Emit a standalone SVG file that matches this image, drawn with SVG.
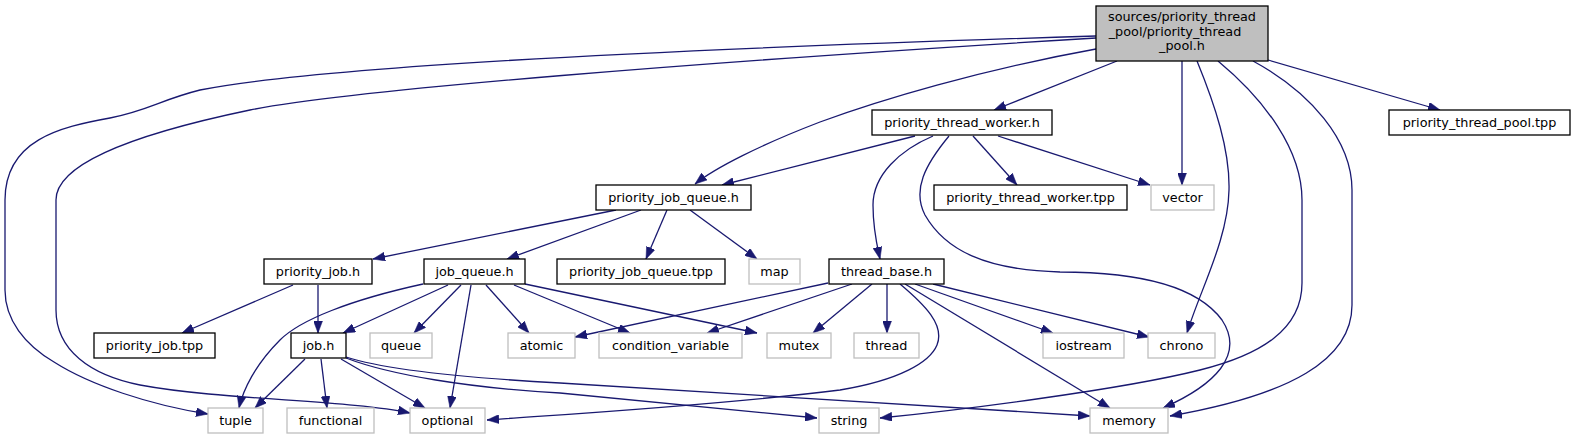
<svg xmlns="http://www.w3.org/2000/svg" width="1575" height="440" viewBox="0 0 1575 440">
<style>
.n rect{fill:#ffffff;stroke:#000000;stroke-width:1.3}
.s rect{fill:#ffffff;stroke:#bfbfbf;stroke-width:1.3}
.m rect{fill:#bfbfbf;stroke:#000000;stroke-width:1.3}
text{font-family:"DejaVu Sans","Liberation Sans",sans-serif;font-size:12.8px;text-anchor:middle;fill:#000000}
#edges path{fill:none;stroke:#191970;stroke-width:1.3;marker-end:url(#arr)}
</style>
<defs>
<marker id="arr" viewBox="0 0 12 9" refX="12" refY="4.5" markerWidth="12" markerHeight="9" markerUnits="userSpaceOnUse" orient="auto">
<path d="M0,0 L12,4.5 L0,9 Z" fill="#191970" stroke="#191970" stroke-width="0.5"/>
</marker>
</defs>
<rect x="0" y="0" width="1575" height="440" fill="#ffffff"/>
<g id="edges">
<path d="M1096,36 C900,42 350,60 200,90 C160,100 150,110 110,118 C60,127 5,140 5,200 L5,290 C5,320 25,345 54,362 C90,385 150,405 208,414"/>
<path d="M1096,38 C700,62 350,90 250,110 C130,135 56,165 56,200 L56,310 C56,350 90,375 140,385 C220,400 350,400 410,413"/>
<path d="M1096,49 C980,70 880,100 820,122 C760,145 715,168 695,184"/>
<path d="M1117,61 L994,110"/>
<path d="M1182,61 L1182,185"/>
<path d="M1197,61 C1215,105 1230,150 1229,190 C1228,240 1200,290 1187,333"/>
<path d="M1218,61 C1265,100 1302,150 1302,200 L1302,283 C1302,330 1260,355 1200,370 C1120,390 960,410 880,418"/>
<path d="M1253,61 C1310,92 1352,140 1352,190 L1352,305 C1352,360 1290,395 1170,416"/>
<path d="M1268,60 L1440,110"/>
<path d="M915,136 L722,185"/>
<path d="M933,136 C900,150 873,175 873,205 C873,230 878,250 880,259"/>
<path d="M949,136 C925,165 912,190 925,215 C945,250 985,270 1060,272 C1150,272 1200,290 1222,320 C1245,355 1215,385 1163,408"/>
<path d="M973,136 L1017,185"/>
<path d="M998,136 L1150,185"/>
<path d="M616,210 L373,259"/>
<path d="M641,210 L507,259"/>
<path d="M667,210 L646,259"/>
<path d="M690,210 L757,259"/>
<path d="M293,285 L182,333"/>
<path d="M318,285 L318,333"/>
<path d="M423,284 C350,300 300,320 280,340 C255,365 243,390 239,408"/>
<path d="M448,285 L343,333"/>
<path d="M461,285 L414,333"/>
<path d="M471,285 L450,408"/>
<path d="M486,285 L529,333"/>
<path d="M514,285 L630,333"/>
<path d="M525,284 L757,333"/>
<path d="M305,359 L255,408"/>
<path d="M321,359 L327,408"/>
<path d="M341,359 L425,408"/>
<path d="M346,357 C380,368 450,377 560,383 L1090,416"/>
<path d="M346,358 C390,375 470,388 560,393 L817,418"/>
<path d="M828,283 L575,337"/>
<path d="M852,284 L707,333"/>
<path d="M872,284 L813,333"/>
<path d="M887,284 L887,333"/>
<path d="M900,284 C925,305 945,325 937,345 C930,362 900,380 840,390 C720,405 570,414 487,420"/>
<path d="M905,284 L1110,408"/>
<path d="M915,284 L1053,333"/>
<path d="M933,284 L1149,337"/>
</g>
<g id="node_main" class="m"><rect x="1096" y="6" width="172" height="55"/><text x="1182" y="21">sources/priority_thread</text><text x="1175" y="35.5">_pool/priority_thread</text><text x="1182" y="50">_pool.h</text></g>
<g id="node_ptw_h" class="n"><rect x="872" y="110" width="180" height="25"/><text x="962" y="127">priority_thread_worker.h</text></g>
<g id="node_ptp_tpp" class="n"><rect x="1389" y="110" width="181" height="25"/><text x="1479.5" y="127">priority_thread_pool.tpp</text></g>
<g id="node_pjq_h" class="n"><rect x="596" y="185" width="155" height="25"/><text x="673.5" y="202">priority_job_queue.h</text></g>
<g id="node_ptw_tpp" class="n"><rect x="934" y="185" width="193" height="25"/><text x="1030.5" y="202">priority_thread_worker.tpp</text></g>
<g id="node_vector" class="s"><rect x="1151" y="185" width="63" height="25"/><text x="1182.5" y="202">vector</text></g>
<g id="node_pj_h" class="n"><rect x="264" y="259" width="108" height="25"/><text x="318" y="276">priority_job.h</text></g>
<g id="node_jq_h" class="n"><rect x="424" y="259" width="101" height="25"/><text x="474.5" y="276">job_queue.h</text></g>
<g id="node_pjq_tpp" class="n"><rect x="557" y="259" width="168" height="25"/><text x="641" y="276">priority_job_queue.tpp</text></g>
<g id="node_map" class="s"><rect x="749" y="259" width="51" height="25"/><text x="774.5" y="276">map</text></g>
<g id="node_thread_base" class="n"><rect x="829" y="259" width="115" height="25"/><text x="886.5" y="276">thread_base.h</text></g>
<g id="node_pj_tpp" class="n"><rect x="94" y="333" width="121" height="25"/><text x="154.5" y="350">priority_job.tpp</text></g>
<g id="node_job_h" class="n"><rect x="291" y="333" width="55" height="25"/><text x="318.5" y="350">job.h</text></g>
<g id="node_queue" class="s"><rect x="370" y="333" width="62" height="25"/><text x="401" y="350">queue</text></g>
<g id="node_atomic" class="s"><rect x="508" y="333" width="67" height="25"/><text x="541.5" y="350">atomic</text></g>
<g id="node_condvar" class="s"><rect x="599" y="333" width="143" height="25"/><text x="670.5" y="350">condition_variable</text></g>
<g id="node_mutex" class="s"><rect x="767" y="333" width="64" height="25"/><text x="799" y="350">mutex</text></g>
<g id="node_thread" class="s"><rect x="854" y="333" width="65" height="25"/><text x="886.5" y="350">thread</text></g>
<g id="node_iostream" class="s"><rect x="1043" y="333" width="81" height="25"/><text x="1083.5" y="350">iostream</text></g>
<g id="node_chrono" class="s"><rect x="1148" y="333" width="67" height="25"/><text x="1181.5" y="350">chrono</text></g>
<g id="node_tuple" class="s"><rect x="208" y="408" width="55" height="25"/><text x="235.5" y="425">tuple</text></g>
<g id="node_functional" class="s"><rect x="287" y="408" width="87" height="25"/><text x="330.5" y="425">functional</text></g>
<g id="node_optional" class="s"><rect x="410" y="408" width="75" height="25"/><text x="447.5" y="425">optional</text></g>
<g id="node_string" class="s"><rect x="819" y="408" width="60" height="25"/><text x="849" y="425">string</text></g>
<g id="node_memory" class="s"><rect x="1090" y="408" width="78" height="25"/><text x="1129" y="425">memory</text></g>
</svg>
